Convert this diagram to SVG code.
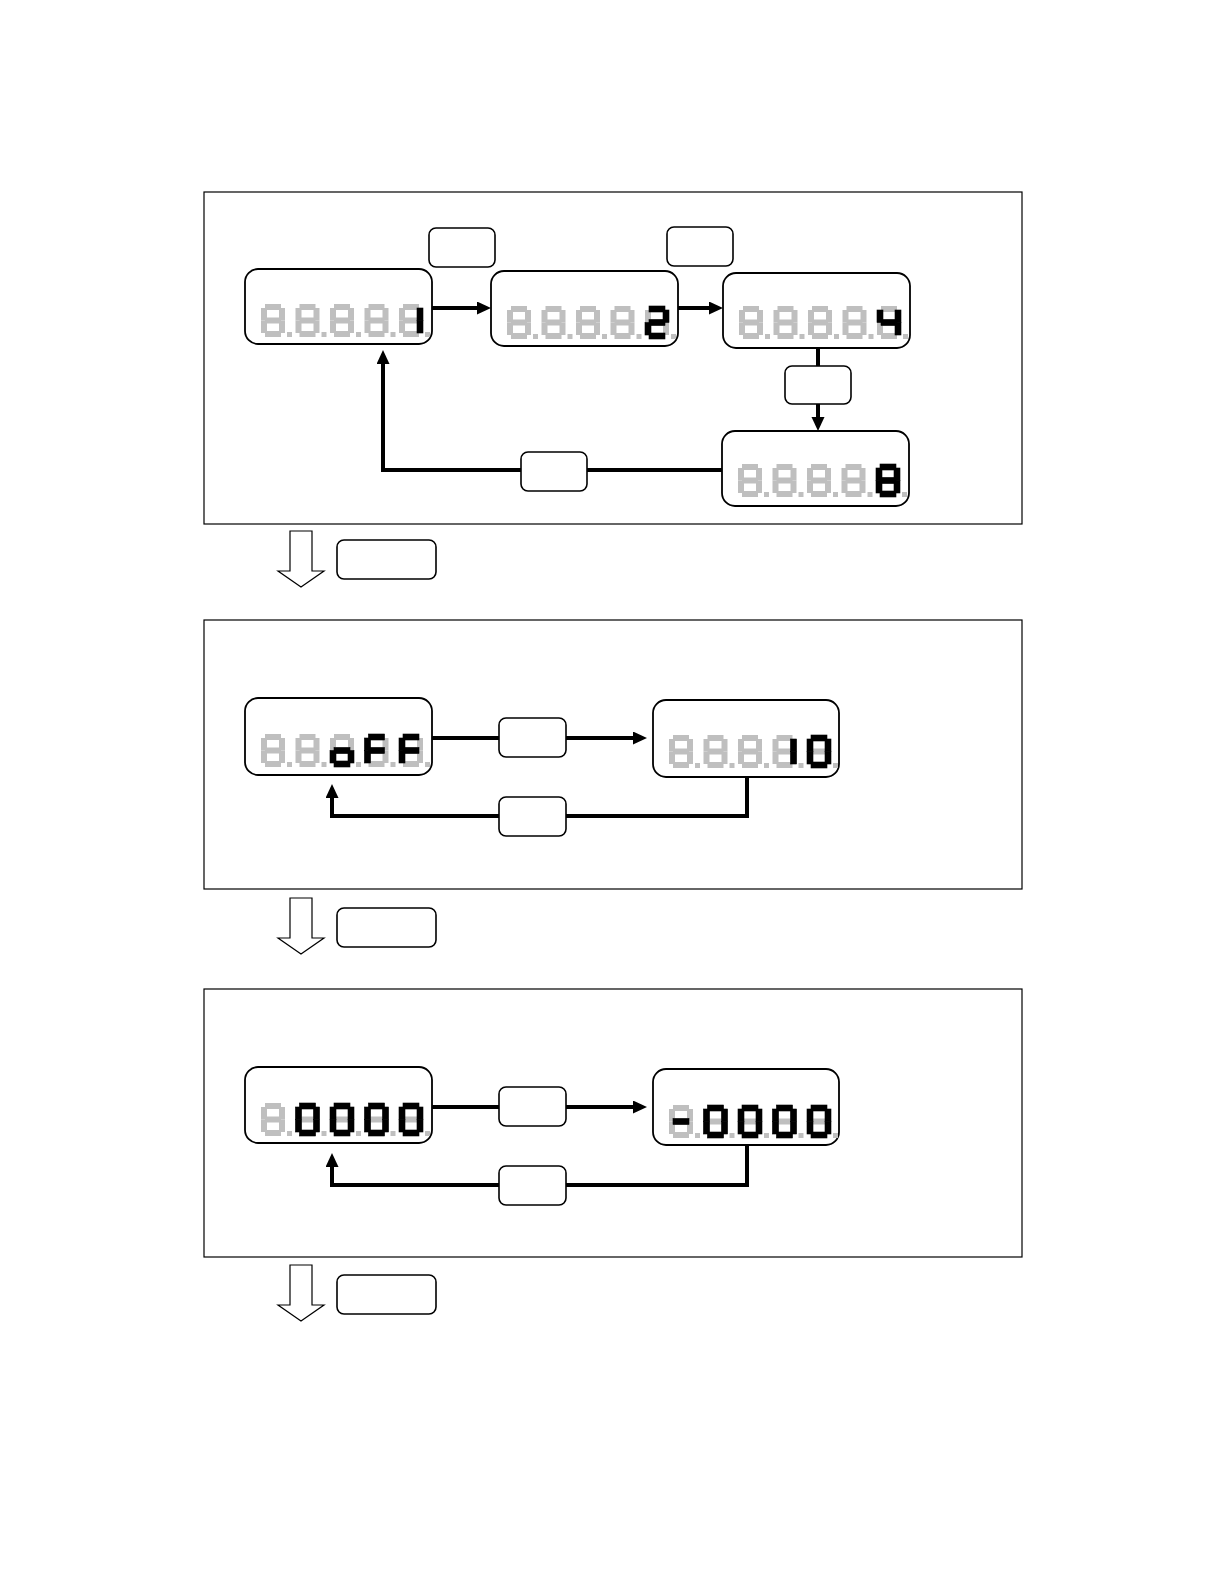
<svg xmlns="http://www.w3.org/2000/svg" xmlns:xlink="http://www.w3.org/1999/xlink" width="1224" height="1584" viewBox="0 0 1224 1584">
<style>
.panel{fill:none;stroke:#000;stroke-width:1.2}
.disp{fill:#fff;stroke:#000;stroke-width:1.8}
.lbl{fill:#fff;stroke:#000;stroke-width:1.6}
.gr{fill:#bfbfbf}
.k{fill:#000;stroke:#000;stroke-width:0.6}
.ln{fill:none;stroke:#000;stroke-width:4;stroke-linejoin:miter}
.hollow{fill:#fff;stroke:#000;stroke-width:1.2}
</style>
<defs>
<marker id="ah" markerUnits="userSpaceOnUse" markerWidth="16" markerHeight="14" refX="4" refY="6.5" orient="auto">
<path d="M0,0 L14,6.5 L0,13 z" fill="#000"/>
</marker>
<rect id="sa" x="4" y="0" width="16" height="6"/>
<rect id="sb" x="18" y="4" width="6" height="12.5"/>
<rect id="sc" x="18" y="16.5" width="6" height="12.5"/>
<rect id="sd" x="4" y="27" width="16" height="6"/>
<rect id="se" x="0" y="16.5" width="6" height="12.5"/>
<rect id="sf" x="0" y="4" width="6" height="12.5"/>
<rect id="sg" x="4" y="13.5" width="16" height="6"/>
<rect id="sp" x="26" y="28" width="5" height="5"/>
<g id="d8"><use href="#sa"/><use href="#sb"/><use href="#sc"/><use href="#sd"/><use href="#se"/><use href="#sf"/><use href="#sg"/><use href="#sp"/></g>
<g id="d8s"><use href="#d8" x="0"/><use href="#d8" x="34.5"/><use href="#d8" x="69"/><use href="#d8" x="103.5"/><use href="#d8" x="138"/></g>
<g id="k0"><use href="#sa"/><use href="#sb"/><use href="#sc"/><use href="#sd"/><use href="#se"/><use href="#sf"/></g>
<g id="k1"><use href="#sb"/><use href="#sc"/></g>
</defs>

<!-- panels -->
<rect class="panel" x="204" y="192" width="818" height="332"/>
<rect class="panel" x="204" y="620" width="818" height="269"/>
<rect class="panel" x="204" y="989" width="818" height="268"/>

<g id="connectors">
<line class="ln" x1="432" y1="308" x2="481" y2="308" marker-end="url(#ah)"/>
<line class="ln" x1="677" y1="308" x2="713" y2="308" marker-end="url(#ah)"/>
<line class="ln" x1="818" y1="348" x2="818" y2="421" marker-end="url(#ah)"/>
<polyline class="ln" points="722,470 383,470 383,360" marker-end="url(#ah)"/>
<line class="ln" x1="432" y1="738" x2="637" y2="738" marker-end="url(#ah)"/>
<polyline class="ln" points="747,777 747,816 332,816 332,794" marker-end="url(#ah)"/>
<line class="ln" x1="432" y1="1107" x2="637" y2="1107" marker-end="url(#ah)"/>
<polyline class="ln" points="747,1146 747,1185 332,1185 332,1163" marker-end="url(#ah)"/>
</g>

<!-- labels -->
<g id="lbl-1"><rect class="lbl" x="429" y="228" width="66" height="39" rx="7"/></g>
<g id="lbl-2"><rect class="lbl" x="667" y="227" width="66" height="39" rx="7"/></g>
<g id="lbl-3"><rect class="lbl" x="785" y="366" width="66" height="38" rx="7"/></g>
<g id="lbl-4"><rect class="lbl" x="521" y="452" width="66" height="39" rx="7"/></g>
<g id="lbl-5"><rect class="lbl" x="499" y="718" width="67" height="39" rx="7"/></g>
<g id="lbl-6"><rect class="lbl" x="499" y="797" width="67" height="39" rx="7"/></g>
<g id="lbl-7"><rect class="lbl" x="499" y="1087" width="67" height="39" rx="7"/></g>
<g id="lbl-8"><rect class="lbl" x="499" y="1166" width="67" height="39" rx="7"/></g>

<!-- displays -->
<g id="disp-1">
<rect class="disp" x="245" y="269" width="187" height="75" rx="13"/>
<use href="#d8s" class="gr" x="261" y="304"/>
<use href="#k1" class="k" x="399" y="304"/>
</g>
<g id="disp-2">
<rect class="disp" x="491" y="271" width="187" height="75" rx="13"/>
<use href="#d8s" class="gr" x="507" y="306"/>
<g class="k" transform="translate(645,306)"><use href="#sa"/><use href="#sb"/><use href="#sg"/><use href="#se"/><use href="#sd"/></g>
</g>
<g id="disp-3">
<rect class="disp" x="723" y="273" width="187" height="75" rx="13"/>
<use href="#d8s" class="gr" x="739" y="306"/>
<g class="k" transform="translate(877,306)"><use href="#sf"/><use href="#sg"/><use href="#sb"/><use href="#sc"/></g>
</g>
<g id="disp-4">
<rect class="disp" x="722" y="431" width="187" height="75" rx="13"/>
<use href="#d8s" class="gr" x="738" y="464"/>
<g class="k" transform="translate(876,464)"><use href="#k0"/><use href="#sg"/></g>
</g>
<g id="disp-5">
<rect class="disp" x="245" y="698" width="187" height="77" rx="13"/>
<use href="#d8s" class="gr" x="261" y="734"/>
<g class="k" transform="translate(330,734)"><use href="#sg"/><use href="#sc"/><use href="#sd"/><use href="#se"/></g>
<g class="k" transform="translate(364.5,734)"><use href="#sa"/><use href="#sf"/><use href="#sg"/><use href="#se"/></g>
<g class="k" transform="translate(399,734)"><use href="#sa"/><use href="#sf"/><use href="#sg"/><use href="#se"/></g>
</g>
<g id="disp-6">
<rect class="disp" x="653" y="700" width="186" height="77" rx="13"/>
<use href="#d8s" class="gr" x="669" y="735"/>
<use href="#k1" class="k" x="772.5" y="735"/>
<use href="#k0" class="k" x="807" y="735"/>
</g>
<g id="disp-7">
<rect class="disp" x="245" y="1067" width="187" height="76" rx="13"/>
<use href="#d8s" class="gr" x="261" y="1103"/>
<use href="#k0" class="k" x="295.5" y="1103"/>
<use href="#k0" class="k" x="330" y="1103"/>
<use href="#k0" class="k" x="364.5" y="1103"/>
<use href="#k0" class="k" x="399" y="1103"/>
</g>
<g id="disp-8">
<rect class="disp" x="653" y="1069" width="186" height="76" rx="13"/>
<use href="#d8s" class="gr" x="669" y="1105"/>
<use href="#sg" class="k" x="669" y="1105"/>
<use href="#k0" class="k" x="703.5" y="1105"/>
<use href="#k0" class="k" x="738" y="1105"/>
<use href="#k0" class="k" x="772.5" y="1105"/>
<use href="#k0" class="k" x="807" y="1105"/>
</g>

<!-- step arrows -->
<g id="step-1">
<polygon class="hollow" points="290,531 312,531 312,571 324,571 301,587 278,571 290,571"/>
<rect class="lbl" x="337" y="540" width="99" height="39" rx="7"/>
</g>
<g id="step-2">
<polygon class="hollow" points="290,898 312,898 312,938 324,938 301,954 278,938 290,938"/>
<rect class="lbl" x="337" y="908" width="99" height="39" rx="7"/>
</g>
<g id="step-3">
<polygon class="hollow" points="290,1265 312,1265 312,1305 324,1305 301,1321 278,1305 290,1305"/>
<rect class="lbl" x="337" y="1275" width="99" height="39" rx="7"/>
</g>
</svg>
